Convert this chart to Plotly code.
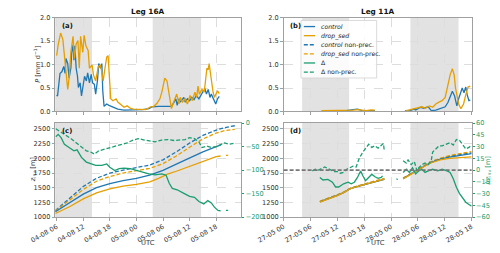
import plotly.graph_objects as go
from datetime import datetime, timedelta

# ---------------- data (hours since panel base time) ----------------
BASE_16A = datetime(2020, 8, 4, 6, 0)
BASE_11A = datetime(2020, 5, 27, 0, 0)
XRANGE_16A_H = [-0.33, 41.67]
XRANGE_11A_H = [0.0, 42.0]
NIGHT_16A_H = [(-4.0, 7.97), (21.67, 32.6)]
NIGHT_11A_H = [(4.13, 14.63), (28.33, 39.07)]

# (a) precipitation Leg 16A [mm/d]
p16_control = [(0, 0.35), (0.2, 0.33), (0.75, 0.81), (1.2, 0.85), (1.6, 0.96), (1.9, 0.81), (2.1, 1.13),
               (2.5, 1.02), (2.8, 0.71), (3.2, 0.92), (3.4, 1.26), (3.7, 1.42), (3.9, 1.09), (4.1, 1.40),
               (4.4, 0.92), (4.7, 0.75), (4.9, 0.51), (5.3, 0.61), (5.6, 0.33), (6.0, 0.54), (6.3, 0.75),
               (6.7, 0.65), (7.0, 0.82), (7.4, 0.61), (7.8, 0.79), (8.1, 0.61), (8.5, 0.58), (8.8, 0.37),
               (9.2, 0.65), (9.5, 1.02), (9.9, 0.92), (10.2, 1.02), (10.4, 0.44), (10.7, 0.11), (11.3, 0.16),
               (11.8, 0.13), (12.7, 0.09), (13.8, 0.05), (15.2, 0.03), (17.3, 0.03), (19.4, 0.04), (20.8, 0.06),
               (21.6, 0.10), (23.0, 0.11), (24.4, 0.11), (25.4, 0.10), (25.9, 0.11), (26.5, 0.20), (26.9, 0.27),
               (27.2, 0.13), (27.6, 0.27), (27.9, 0.20), (28.7, 0.30), (29.0, 0.20), (29.5, 0.27), (30.0, 0.23),
               (30.5, 0.30), (31.0, 0.25), (31.5, 0.34), (32.1, 0.27), (32.6, 0.37), (33.1, 0.44), (33.5, 0.47),
               (33.8, 0.37), (34.2, 0.47), (34.6, 0.30), (34.9, 0.37), (35.3, 0.27), (35.6, 0.20), (35.9, 0.16),
               (36.3, 0.27), (36.7, 0.32)]
p16_drop = [(0, 1.19), (0.35, 1.43), (0.9, 1.67), (1.4, 1.53), (1.75, 1.19), (2.1, 0.78), (2.5, 0.47),
            (2.8, 0.71), (3.2, 1.26), (3.7, 1.60), (4.0, 1.13), (4.4, 1.44), (4.8, 1.51), (5.1, 0.92),
            (5.4, 1.60), (5.9, 1.26), (6.2, 1.62), (6.6, 1.40), (7.1, 1.30), (7.4, 0.92), (8.0, 0.99),
            (8.3, 0.78), (8.8, 0.65), (9.4, 0.96), (9.9, 0.99), (10.2, 0.82), (10.5, 0.65), (10.9, 0.92),
            (11.3, 1.16), (11.6, 1.19), (11.8, 0.92), (12.2, 0.27), (12.7, 0.23), (13.4, 0.27), (13.8, 0.20),
            (14.5, 0.14), (15.2, 0.09), (15.9, 0.12), (16.6, 0.07), (17.3, 0.05), (18.7, 0.05), (20.1, 0.04),
            (21.2, 0.10), (21.9, 0.11), (22.6, 0.17), (23.3, 0.27), (23.8, 0.44), (24.4, 0.71), (24.9, 0.65),
            (25.2, 0.44), (25.6, 0.23), (25.9, 0.06), (26.5, 0.23), (27.1, 0.37), (27.6, 0.16), (27.9, 0.30),
            (28.4, 0.20), (29.0, 0.27), (29.5, 0.16), (30.1, 0.34), (30.6, 0.23), (31.2, 0.41), (31.6, 0.30),
            (31.9, 0.54), (32.2, 0.37), (32.8, 0.47), (33.3, 0.41), (33.6, 0.65), (33.9, 0.92), (34.2, 0.89),
            (34.4, 1.02), (34.7, 0.82), (35.0, 0.58), (35.3, 0.41), (35.6, 0.30), (35.9, 0.37), (36.3, 0.44),
            (36.7, 0.38)]

# (b) precipitation Leg 11A [mm/d]
p11_control = [(8.5, 0.01), (10, 0.01), (12, 0.015), (14, 0.02), (15.5, 0.04), (16.5, 0.05), (17.5, 0.02),
               (18.5, 0.01), (19.5, 0.02), (20.4, 0.02), None,
               (27.1, 0.01), (28.2, 0.02), (29.2, 0.05), (29.5, 0.03), (30.6, 0.09), (31.3, 0.07), (32.3, 0.10),
               (33.0, 0.02), (34.0, 0.03), (35.1, 0.06), (36.1, 0.10), (36.7, 0.19), (37.2, 0.30), (37.7, 0.43),
               (38.2, 0.33), (38.7, 0.12), (39.1, 0.27), (39.6, 0.43), (39.9, 0.50), (40.3, 0.40), (40.7, 0.52),
               (41.0, 0.36), (41.4, 0.23), (41.7, 0.24)]
p11_drop = [(8.5, 0.02), (10, 0.02), (12, 0.025), (14, 0.02), (15.5, 0.03), (16.5, 0.04), (17.5, 0.03),
            (18.5, 0.02), (19.5, 0.035), (20.4, 0.03), None,
            (27.4, 0.02), (28.8, 0.05), (30.2, 0.09), (30.9, 0.10), (31.6, 0.07), (32.6, 0.12), (33.3, 0.09),
            (34.0, 0.16), (34.7, 0.20), (35.4, 0.23), (36.1, 0.30), (36.6, 0.50), (37.2, 0.78), (37.7, 0.91),
            (38.1, 0.78), (38.4, 0.50), (38.8, 0.30), (39.1, 0.16), (39.6, 0.06), (40.2, 0.16), (40.7, 0.36),
            (41.2, 0.52), (41.7, 0.54)]

# (c) inversion height Leg 16A [m]
z16_control = [(-0.3, 1090), (3, 1250), (6, 1390), (9, 1500), (12, 1570), (15, 1620), (18, 1660), (21, 1715),
               (24, 1795), (27, 1900), (30, 2010), (33, 2110), (36, 2200), (37.1, 2230)]
z16_drop = [(-0.3, 1060), (3, 1180), (6, 1310), (9, 1410), (12, 1480), (15, 1525), (18, 1555), (21, 1600),
            (23, 1660), (24, 1700), (25, 1730), (27, 1780), (30, 1865), (33, 1955), (35, 2010), (36, 2030),
            (37, 2040), None, (38.2, 2050), (38.7, 2050)]
z16_control_np = [(-0.3, 1110), (3, 1320), (6, 1520), (9, 1660), (12, 1750), (15, 1800), (18, 1840),
                  (21, 1885), (24, 1975), (27, 2110), (30, 2260), (33, 2390), (36, 2480), (38, 2525), (40.2, 2555)]
z16_drop_np = [(-0.3, 1100), (3, 1290), (6, 1470), (9, 1610), (12, 1690), (15, 1750), (18, 1790), (21, 1830),
               (24, 1910), (27, 2040), (30, 2190), (33, 2330), (36, 2430), (38, 2475), (40.2, 2495)]
dz16 = [(-0.2, -29), (0.35, -24), (1.0, -31), (1.75, -45), (2.8, -52), (3.9, -59), (4.6, -57), (5.6, -73),
        (6.7, -83), (7.8, -87), (8.8, -90), (10.2, -90), (11.3, -87), (12.0, -94), (13.1, -101), (14.1, -97),
        (15.2, -96), (16.6, -97), (18.0, -101), (19.4, -104), (20.8, -108), (22.2, -110), (23.7, -108),
        (24.7, -111), (25.4, -128), (26.1, -139), (27.2, -142), (28.6, -149), (30.0, -156), (31.1, -158),
        (32.1, -167), (33.2, -172), (34.1, -165), (34.9, -170), (35.6, -179), (36.4, -186), (37.0, -187),
        None, (38.2, -186), (38.7, -186)]
dz16_np = [(-0.2, -12), (0.7, -17), (1.75, -24), (3.2, -33), (4.6, -43), (5.6, -52), (6.7, -59), (7.8, -62),
           (8.5, -66), (9.5, -59), (10.6, -56), (11.7, -52), (13.1, -49), (14.5, -45), (15.9, -42), (17.3, -36),
           (18.4, -33), (19.8, -36), (21.2, -38), (22.2, -40), (23.7, -36), (25.1, -35), (26.5, -37),
           (27.9, -36), (29.0, -35), (30.0, -31), (31.1, -33), (32.1, -40), (32.8, -52), (33.9, -49),
           (34.9, -52), (36.0, -50), (37.1, -45), (37.9, -42), (38.8, -45), (39.9, -43)]

# (d) inversion height Leg 11A [m]
z11_control = [(8.1, 1260), (10, 1310), (12, 1370), (13.5, 1420), (14.8, 1480), (16, 1510), (17.6, 1540),
               (19, 1570), (20.4, 1600), (21.5, 1620), (22.5, 1640), None,
               (26.7, 1655), (28.3, 1730), (29.9, 1800), (31.5, 1870), (33, 1930), (35, 1985), (37, 2020),
               (39, 2045), (41, 2065), (42, 2080)]
z11_drop = [(8.1, 1255), (10, 1305), (12, 1365), (13.5, 1420), (14.8, 1480), (16, 1510), (17.6, 1545),
            (19, 1575), (20.4, 1605), (21.5, 1625), (22.5, 1645), None,
            (26.7, 1650), (28.3, 1725), (29.9, 1800), (31.5, 1865), (33, 1925), (35, 1975), (37, 2000),
            (39, 2010), (41, 2020), (42, 2025)]
z11_control_np = [(8.1, 1265), (10, 1315), (12, 1375), (13.5, 1425), (14.8, 1485), (16, 1515), (17.6, 1550),
                  (19, 1585), (20.4, 1615), (21.5, 1635), (22.5, 1650), None,
                  (26.7, 1660), (28.3, 1735), (29.9, 1810), (31.5, 1880), (33, 1940), (35, 1995), (37, 2035),
                  (39, 2060), (41, 2085), (42, 2095)]
z11_drop_np = [(8.1, 1270), (10, 1320), (12, 1380), (13.5, 1430), (14.8, 1490), (16, 1520), (17.6, 1555),
               (19, 1590), (20.4, 1625), (21.5, 1645), (22.5, 1660), None,
               (26.7, 1665), (28.3, 1740), (29.9, 1815), (31.5, 1885), (33, 1945), (35, 2000), (37, 2045),
               (39, 2075), (41, 2100), (42, 2115)]
dz11 = [(8.1, -9.4), (8.8, -12.7), (9.9, -12), (10.9, -15.5), (11.6, -21.6), (12.3, -21.6), (13.4, -17.5),
        (14.4, -15.5), (15.1, -17.5), (15.8, -15.5), (16.5, -9.4), (17.2, -1.2), (17.7, -7.3), (18.3, -13.5),
        (19.0, -9.4), (19.7, -5.3), (20.4, -8.6), (21.1, -10.6), (21.8, -9.4), (22.1, -7.3), None,
        (25.2, -11), (25.5, -12), None,
        (26.7, -3), (27.4, 1), (28.1, -3), (28.8, 3), (29.5, -5), (30.2, -1), (30.9, 1), (31.6, -3),
        (32.3, -1), (33.3, 1), (34.4, -1), (35.4, 1), (36.5, -1), (37.2, -3), (37.9, -11), (38.6, -22),
        (39.3, -30), (40.0, -36), (40.7, -41), (41.4, -44), (42.0, -46)]
dz11_np = [(6.4, -1), (7.1, 1), (7.8, 0), (8.5, 2), (9.2, 4), (9.9, 2), (10.6, 0), (11.3, -2), (12, -2),
           (12.7, -4), (13.4, -3), (14.1, 1), (14.8, 3), (15.5, 5), (16.2, 4), (16.9, 15), (17.6, 22),
           (18.3, 27), (19, 33), (19.7, 29), (20.4, 31), (21.1, 28), (21.8, 32), (22.3, 34), (22.5, 24), None,
           (26.7, 12), (27.4, 9), (27.8, 13), (28.5, 7), (29.2, 11), (29.8, -1), (30.2, 3), (30.9, 7),
           (31.6, 9), (32.3, 7), (33.0, 13), (33.3, 23), (34.0, 27), (34.7, 31), (35.4, 31), (36.5, 34),
           (37.2, 35), (37.9, 32), (38.6, 39), (39.3, 38), (40.0, 33), (40.7, 27), (41.4, 29), (42.0, 32)]

DZ_ZERO = 0

LEGEND_ENTRIES = [("<i>control</i>", "blue", "solid"),
                  ("<i>drop_sed</i>", "orange", "solid"),
                  ("<i>control</i> non-prec.", "blue", "dash"),
                  ("<i>drop_sed</i> non-prec.", "orange", "dash"),
                  ("Δ", "green", "solid"),
                  ("Δ non-prec.", "green", "dash")]

# ---------------- styling ----------------
COL = {"blue": "#1f77b4", "orange": "#E69F00", "green": "#1a9e70"}
DASH = "4px,2px"
FONT = "DejaVu Sans"
LW = 1.3
TS = 6.6  # tick font size


def to_xy(pairs, base):
    xs, ys = [], []
    for p in pairs:
        if p is None:
            xs.append(None)
            ys.append(None)
        else:
            xs.append((base + timedelta(hours=p[0])).strftime("%Y-%m-%d %H:%M:%S"))
            ys.append(p[1])
    return xs, ys


def hours(base, h):
    return (base + timedelta(hours=h)).strftime("%Y-%m-%d %H:%M:%S")


fig = go.Figure()


def add(pairs, base, color, dash, xa, ya):
    x, y = to_xy(pairs, base)
    fig.add_trace(go.Scatter(x=x, y=y, mode="lines", xaxis=xa, yaxis=ya, showlegend=False,
                             line=dict(color=COL[color], width=LW, dash=(DASH if dash == "dash" else "solid")),
                             connectgaps=False, hoverinfo="skip"))


# panel a
add(p16_control, BASE_16A, "blue", "solid", "x", "y")
add(p16_drop, BASE_16A, "orange", "solid", "x", "y")
# panel b
add(p11_control, BASE_11A, "blue", "solid", "x2", "y2")
add(p11_drop, BASE_11A, "orange", "solid", "x2", "y2")
# panel c
add(z16_control_np, BASE_16A, "blue", "dash", "x3", "y3")
add(z16_drop_np, BASE_16A, "orange", "dash", "x3", "y3")
add(z16_control, BASE_16A, "blue", "solid", "x3", "y3")
add(z16_drop, BASE_16A, "orange", "solid", "x3", "y3")
add(dz16_np, BASE_16A, "green", "dash", "x3", "y4")
add(dz16, BASE_16A, "green", "solid", "x3", "y4")
# panel d
add(z11_control_np, BASE_11A, "blue", "dash", "x4", "y5")
add(z11_drop_np, BASE_11A, "orange", "dash", "x4", "y5")
add(z11_control, BASE_11A, "blue", "solid", "x4", "y5")
add(z11_drop, BASE_11A, "orange", "solid", "x4", "y5")
add(dz11_np, BASE_11A, "green", "dash", "x4", "y6")
add(dz11, BASE_11A, "green", "solid", "x4", "y6")

W, H = 500, 253
XL = [30 / W, 228 / W]
XR = [273 / W, 473 / W]
YT = [(H - 111) / H, (H - 14) / H]
YB = [(H - 220) / H, (H - 123) / H]

TICKFONT = dict(family=FONT, size=TS, color="#333333")
GRID = dict(showgrid=True, gridcolor="#dddddd", griddash="dash", gridwidth=0.8)
FRAME = dict(showline=True, linecolor="#a0a0a0", linewidth=1, mirror=True,
             ticks="outside", ticklen=2.5, tickcolor="#a0a0a0", tickwidth=0.8, zeroline=False)


def xax(domain, base, rng, anchor, labels):
    return dict(domain=domain, anchor=anchor, type="date",
                range=[hours(base, rng[0]), hours(base, rng[1])],
                tick0=base.replace(hour=0).strftime("%Y-%m-%d %H:%M:%S"), dtick=6 * 3600 * 1000,
                tickformat="%d-%m %H",
                showticklabels=labels, tickangle=-30, tickfont=TICKFONT, **GRID, **FRAME)


def yax(domain, rng, dtick, anchor, fmt=None):
    d = dict(domain=domain, anchor=anchor, range=rng, dtick=dtick, tickfont=TICKFONT, **GRID, **FRAME)
    if fmt:
        d["tickformat"] = fmt
    return d


def yright(over, rng, dtick, anchor):
    return dict(overlaying=over, side="right", anchor=anchor, range=rng, dtick=dtick,
                showgrid=False, zeroline=False, showline=False, ticks="outside", ticklen=2,
                tickcolor=COL["green"], tickfont=dict(family=FONT, size=TS, color=COL["green"]))


fig.update_layout(
    width=W, height=H, margin=dict(l=0, r=0, t=0, b=0),
    paper_bgcolor="white", plot_bgcolor="white", showlegend=False,
    font=dict(family=FONT, size=TS, color="#333333"),
    xaxis=xax(XL, BASE_16A, XRANGE_16A_H, "y", False),
    yaxis=yax(YT, [0, 2.0], 0.5, "x", ".1f"),
    xaxis2=xax(XR, BASE_11A, XRANGE_11A_H, "y2", False),
    yaxis2=yax(YT, [0, 2.0], 0.5, "x2", ".1f"),
    xaxis3=xax(XL, BASE_16A, XRANGE_16A_H, "y3", True),
    yaxis3=yax(YB, [1000, 2600], 250, "x3"),
    yaxis4=yright("y3", [-200, 0], 50, "x3"),
    xaxis4=xax(XR, BASE_11A, XRANGE_11A_H, "y5", True),
    yaxis5=yax(YB, [1000, 2600], 250, "x4"),
    yaxis6=yright("y5", [-60, 60], 15, "x4"),
)

shapes = []
for xa, ya, base, nights in [("x", "y", BASE_16A, NIGHT_16A_H), ("x3", "y3", BASE_16A, NIGHT_16A_H),
                             ("x2", "y2", BASE_11A, NIGHT_11A_H), ("x4", "y5", BASE_11A, NIGHT_11A_H)]:
    for a, b in nights:
        shapes.append(dict(type="rect", xref=xa, yref=ya + " domain", x0=hours(base, a), x1=hours(base, b),
                           y0=0, y1=1, fillcolor="#e2e2e2", line=dict(width=0), layer="below"))
# zero line of delta in (d)
shapes.append(dict(type="line", xref="x4 domain", yref="y6", x0=0, x1=1, y0=DZ_ZERO, y1=DZ_ZERO,
                   line=dict(color="#777777", width=1.6, dash="4px,2px"), layer="above"))

annotations = []
# manual legend in panel (b)
LEG_X0, LEG_Y0, ROW = 291.5, 17.0, 9.4
shapes.append(dict(type="rect", xref="paper", yref="paper", x0=LEG_X0 / W, x1=372 / W,
                   y0=1 - (LEG_Y0 + ROW * len(LEGEND_ENTRIES) + 3) / H, y1=1 - LEG_Y0 / H,
                   fillcolor="rgba(255,255,255,0.85)", line=dict(color="#d0d0d0", width=0.8), layer="above"))
for i, (name, c, d) in enumerate(LEGEND_ENTRIES):
    yy = 1 - (LEG_Y0 + 6.3 + ROW * i) / H
    shapes.append(dict(type="line", xref="paper", yref="paper", x0=(LEG_X0 + 3) / W, x1=(LEG_X0 + 15) / W,
                       y0=yy, y1=yy, layer="above",
                       line=dict(color=COL[c], width=LW, dash=(DASH if d == "dash" else "solid"))))
    annotations.append(dict(xref="paper", yref="paper", x=(LEG_X0 + 19.5) / W, y=yy, text=name,
                            showarrow=False, xanchor="left", yanchor="middle",
                            font=dict(family=FONT, size=6.2, color="#222222")))

# panel labels
for lab, xa, ya in [("(a)", "x", "y"), ("(b)", "x2", "y2"), ("(c)", "x3", "y3"), ("(d)", "x4", "y5")]:
    annotations.append(dict(xref=xa + " domain", yref=ya + " domain", x=0.025, y=0.975, text="<b>" + lab + "</b>",
                            showarrow=False, xanchor="left", yanchor="top",
                            font=dict(family=FONT, size=6.8, color="#111111")))
# titles
for t, xc in [("Leg 16A", 129), ("Leg 11A", 373)]:
    annotations.append(dict(xref="paper", yref="paper", x=xc / W, y=1 - 7.5 / H, text="<b>" + t + "</b>",
                            showarrow=False, xanchor="center", yanchor="middle",
                            font=dict(family=FONT, size=7.3, color="#111111")))
# UTC labels
for xc in [129, 373]:
    annotations.append(dict(xref="paper", yref="paper", x=xc / W, y=1 - 247 / H, text="UTC",
                            showarrow=False, xanchor="center", yanchor="middle",
                            font=dict(family=FONT, size=6.8, color="#333333")))
# y titles
annotations.append(dict(xref="paper", yref="paper", x=11 / W, y=(YT[0] + YT[1]) / 2,
                        text="<i>P</i> [mm d<sup>−1</sup>]", textangle=-90, showarrow=False,
                        xanchor="center", yanchor="middle", font=dict(family=FONT, size=6.6, color="#333333")))
annotations.append(dict(xref="paper", yref="paper", x=6.5 / W, y=(YB[0] + YB[1]) / 2,
                        text="<i>z</i><sub>inv</sub> [m]", textangle=-90, showarrow=False,
                        xanchor="center", yanchor="middle", font=dict(family=FONT, size=6.6, color="#333333")))
annotations.append(dict(xref="paper", yref="paper", x=490 / W, y=(YB[0] + YB[1]) / 2,
                        text="Δ<i>z</i><sub>inv</sub> [m]", textangle=-90, showarrow=False,
                        xanchor="center", yanchor="middle", font=dict(family=FONT, size=6.6, color=COL["green"])))

fig.update_layout(shapes=shapes, annotations=annotations)
fig.write_html("out.html")
